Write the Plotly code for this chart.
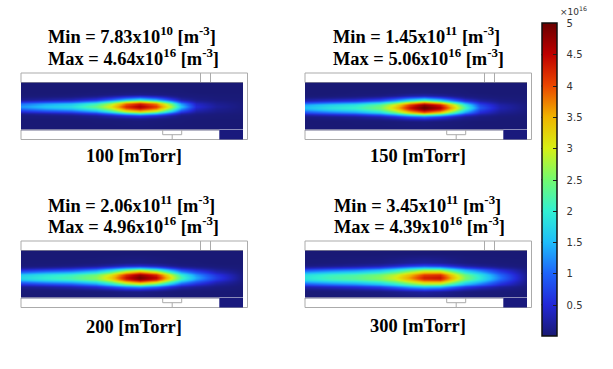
import plotly.graph_objects as go

W, H = 613, 369

pressures = ["100 [mTorr]", "150 [mTorr]", "200 [mTorr]", "300 [mTorr]"]
min_labels = ["7.83x10<sup>10</sup>", "1.45x10<sup>11</sup>", "2.06x10<sup>11</sup>", "3.45x10<sup>11</sup>"]
max_labels = ["4.64x10<sup>16</sup>", "5.06x10<sup>16</sup>", "4.96x10<sup>16</sup>", "4.39x10<sup>16</sup>"]

# axial position along the chamber (same scale for each panel)
x_nodes = [0, 25, 50, 75, 90, 105, 119, 135, 150, 160, 175, 195, 222]
# radial distance from the discharge axis
r_nodes = [0, 2.4, 4.8, 7.2, 9.6, 12, 14.4, 24]

# density on the upper half of each panel, in 1e16 m^-3; one row per r_node
density_100 = [
    [1.30, 1.60, 1.80, 2.40, 3.10, 4.20, 4.64, 4.10, 2.80, 1.60, 0.50, 0.20, 0.05],
    [1.05, 1.35, 1.55, 2.10, 2.80, 3.85, 4.30, 3.75, 2.45, 1.30, 0.40, 0.15, 0.05],
    [0.50, 0.70, 0.85, 1.30, 1.95, 2.85, 3.25, 2.70, 1.55, 0.70, 0.22, 0.10, 0.04],
    [0.14, 0.22, 0.32, 0.58, 1.00, 1.55, 1.90, 1.45, 0.70, 0.26, 0.10, 0.05, 0.03],
    [0.04, 0.06, 0.08, 0.17, 0.32, 0.55, 0.70, 0.48, 0.20, 0.08, 0.05, 0.03, 0.02],
    [0.02, 0.02, 0.03, 0.05, 0.08, 0.12, 0.15, 0.10, 0.06, 0.04, 0.03, 0.02, 0.02],
    [0.01, 0.01, 0.01, 0.02, 0.02, 0.03, 0.04, 0.03, 0.02, 0.02, 0.01, 0.01, 0.01],
    [0.01, 0.01, 0.01, 0.01, 0.01, 0.01, 0.01, 0.01, 0.01, 0.01, 0.01, 0.01, 0.01],
]
density_150 = [
    [1.55, 1.85, 2.05, 2.50, 3.30, 4.40, 5.06, 4.60, 3.20, 2.20, 0.90, 0.30, 0.05],
    [1.35, 1.65, 1.85, 2.30, 3.05, 4.10, 4.75, 4.25, 2.90, 1.90, 0.75, 0.25, 0.05],
    [0.80, 1.05, 1.25, 1.70, 2.35, 3.25, 3.80, 3.25, 2.05, 1.25, 0.48, 0.15, 0.04],
    [0.30, 0.45, 0.58, 0.90, 1.35, 2.00, 2.40, 1.90, 1.05, 0.55, 0.22, 0.08, 0.03],
    [0.08, 0.12, 0.18, 0.32, 0.55, 0.90, 1.10, 0.75, 0.35, 0.17, 0.08, 0.04, 0.02],
    [0.02, 0.03, 0.05, 0.08, 0.14, 0.25, 0.30, 0.20, 0.10, 0.06, 0.04, 0.02, 0.02],
    [0.01, 0.01, 0.02, 0.02, 0.03, 0.05, 0.06, 0.04, 0.03, 0.02, 0.01, 0.01, 0.01],
    [0.01, 0.01, 0.01, 0.01, 0.01, 0.01, 0.01, 0.01, 0.01, 0.01, 0.01, 0.01, 0.01],
]
density_200 = [
    [1.75, 2.00, 2.20, 2.60, 3.30, 4.40, 4.96, 4.50, 3.10, 2.20, 1.40, 0.70, 0.05],
    [1.60, 1.85, 2.05, 2.45, 3.10, 4.15, 4.70, 4.20, 2.85, 2.00, 1.25, 0.60, 0.05],
    [1.10, 1.35, 1.50, 1.90, 2.50, 3.40, 3.90, 3.35, 2.20, 1.45, 0.90, 0.38, 0.04],
    [0.50, 0.65, 0.80, 1.15, 1.65, 2.30, 2.65, 2.15, 1.30, 0.78, 0.45, 0.18, 0.03],
    [0.15, 0.22, 0.32, 0.52, 0.82, 1.18, 1.35, 1.05, 0.55, 0.30, 0.18, 0.08, 0.02],
    [0.04, 0.05, 0.08, 0.15, 0.25, 0.40, 0.45, 0.32, 0.15, 0.08, 0.05, 0.03, 0.02],
    [0.02, 0.02, 0.02, 0.03, 0.05, 0.08, 0.09, 0.06, 0.03, 0.02, 0.02, 0.01, 0.01],
    [0.01, 0.01, 0.01, 0.01, 0.01, 0.01, 0.01, 0.01, 0.01, 0.01, 0.01, 0.01, 0.01],
]
density_300 = [
    [1.90, 2.15, 2.30, 2.60, 3.00, 3.65, 4.30, 4.39, 3.25, 2.55, 1.95, 1.10, 0.10],
    [1.80, 2.05, 2.20, 2.48, 2.85, 3.45, 4.05, 4.15, 3.05, 2.42, 1.85, 1.00, 0.10],
    [1.40, 1.62, 1.78, 2.05, 2.42, 2.95, 3.45, 3.50, 2.60, 2.00, 1.50, 0.78, 0.08],
    [0.80, 1.00, 1.15, 1.45, 1.80, 2.25, 2.60, 2.55, 1.85, 1.40, 1.00, 0.48, 0.06],
    [0.30, 0.42, 0.55, 0.75, 1.05, 1.40, 1.60, 1.50, 1.00, 0.70, 0.45, 0.20, 0.04],
    [0.08, 0.12, 0.18, 0.28, 0.42, 0.62, 0.75, 0.65, 0.40, 0.25, 0.15, 0.07, 0.03],
    [0.02, 0.03, 0.05, 0.07, 0.12, 0.18, 0.22, 0.18, 0.10, 0.06, 0.04, 0.03, 0.02],
    [0.01, 0.01, 0.01, 0.01, 0.01, 0.01, 0.01, 0.01, 0.01, 0.01, 0.01, 0.01, 0.01],
]
densities = [density_100, density_150, density_200, density_300]

# layout of the four panels, in pixels
panel_left = [21, 305, 21, 305]
panel_top = [73, 73, 241, 241]
axis_offset = [23.8, 24.8, 26.5, 26.5]   # discharge axis, below the plasma top edge
min_y = [36, 36, 204, 204]
max_y = [57, 57, 225, 225]
cap_y = [156, 156, 327, 326]
text_x = [47, 332, 47, 333]
cap_x = [134, 418, 134, 418]

color_stops = [
    (0.0, "rgb(25,25,115)"), (0.1, "rgb(35,40,215)"), (0.2, "rgb(30,100,250)"),
    (0.3, "rgb(30,190,250)"), (0.4, "rgb(50,240,210)"), (0.5, "rgb(115,250,110)"),
    (0.6, "rgb(215,240,20)"), (0.7, "rgb(240,180,0)"), (0.8, "rgb(235,70,0)"),
    (0.9, "rgb(190,0,0)"), (1.0, "rgb(105,0,0)"),
]
bar_ticks = [0.5, 1, 1.5, 2, 2.5, 3, 3.5, 4, 4.5, 5]
bar_labels = ["\u00a0\u00a00.5", "\u00a0\u00a01", "\u00a0\u00a01.5", "\u00a0\u00a02", "\u00a0\u00a02.5",
              "\u00a0\u00a03", "\u00a0\u00a03.5", "\u00a0\u00a04", "\u00a0\u00a04.5", "\u00a0\u00a05"]

NAVY = "#19197d"
GRAY = "#ababab"
PLASMA_W, PLASMA_H, GAP_TOP = 222, 47.5, 9.5
BAR_L, BAR_W, BAR_T, BAR_B = 541.5, 15, 23.5, 336

fig = go.Figure()
layout_axes = {}
shapes, annots = [], []


def line(x0, y0, x1, y1, color=GRAY, width=1):
    shapes.append(dict(type="line", xref="paper", yref="paper", x0=x0 / W, x1=x1 / W,
                       y0=1 - y0 / H, y1=1 - y1 / H, line=dict(color=color, width=width)))


for i, dens in enumerate(densities):
    L, T = panel_left[i], panel_top[i]
    pT = T + GAP_TOP
    pB = pT + PLASMA_H
    n = str(i + 1)
    c = axis_offset[i]
    ys = [c - r for r in reversed(r_nodes[1:])] + [c + r for r in r_nodes]
    ys = [max(0, min(PLASMA_H, v)) for v in ys]
    rows = list(reversed(dens[1:])) + dens
    for k in range(1, len(ys)):
        if ys[k] <= ys[k - 1]:
            ys[k] = ys[k - 1] + 0.01
    fig.add_trace(go.Heatmap(
        x=x_nodes, y=ys, z=rows, zmin=0, zmax=5, zsmooth="best",
        colorscale=color_stops, xaxis="x" + n, yaxis="y" + n,
        showscale=(i == 0), hoverinfo="skip",
        colorbar=dict(
            thicknessmode="pixels", thickness=BAR_W, lenmode="pixels", len=BAR_B - BAR_T,
            x=BAR_L / W, xanchor="left", y=1 - BAR_T / H, yanchor="top", xpad=0, ypad=0,
            outlinecolor="#111111", outlinewidth=1.5, borderwidth=0,
            tickmode="array", tickvals=bar_ticks, ticktext=bar_labels,
            ticks="inside", ticklen=4, tickcolor="#222222", tickwidth=1,
            tickfont=dict(family="DejaVu Sans", size=10, color="#333333"),
            ticklabelposition="outside",
        ),
    ))
    suffix = "" if i == 0 else n
    layout_axes["xaxis" + suffix] = dict(domain=[L / W, (L + PLASMA_W) / W], range=[0, PLASMA_W],
                                          visible=False, fixedrange=True)
    layout_axes["yaxis" + suffix] = dict(domain=[1 - pB / H, 1 - pT / H], range=[PLASMA_H, 0],
                                          visible=False, fixedrange=True)

    R = L + 226.5
    Bm = T + 66.5
    line(L, T, R, T)
    line(L, T, L, pT)
    line(R, T, R, Bm)
    line(L, Bm, R, Bm)
    line(L, pB, L, Bm)
    line(L + 179.5, T, L + 179.5, pT)
    line(L + 189.5, T, L + 189.5, pT)
    line(L, pT, L + PLASMA_W, pT, "#6f6f8f", 1)
    line(L, pB, L + 198.3, pB, "#6f6f8f", 1)
    line(L + 141.7, pB, L + 141.7, pB + 4.7)
    line(L + 160.7, pB, L + 160.7, pB + 4.7)
    line(L + 141.7, pB + 4.7, L + 160.7, pB + 4.7)
    line(L + 151.2, pB + 4.7, L + 151.2, Bm)
    shapes.append(dict(type="rect", xref="paper", yref="paper", x0=(L + 198.3) / W, x1=(L + PLASMA_W) / W,
                       y0=1 - Bm / H, y1=1 - pB / H, fillcolor=NAVY, line_width=0, layer="above"))

    font = dict(family="Liberation Serif", size=18.4, color="black")
    annots.append(dict(text=f"<b>Min = {min_labels[i]} [m<sup>-3</sup>]</b>", x=text_x[i] / W, y=1 - min_y[i] / H,
                       xanchor="left", yanchor="middle", font=font))
    annots.append(dict(text=f"<b>Max = {max_labels[i]} [m<sup>-3</sup>]</b>", x=text_x[i] / W, y=1 - max_y[i] / H,
                       xanchor="left", yanchor="middle", font=font))
    annots.append(dict(text=f"<b>{pressures[i]}</b>", x=cap_x[i] / W, y=1 - cap_y[i] / H,
                       xanchor="center", yanchor="middle", font=font))

for v in bar_ticks[:-1]:
    yy = BAR_B - (BAR_B - BAR_T) * v / 5
    line(BAR_L, yy, BAR_L + 4, yy, "#222222", 1)

annots.append(dict(text="×10<sup>16</sup>", x=559 / W, y=1 - 11 / H, xanchor="left", yanchor="middle",
                   font=dict(family="DejaVu Sans", size=9, color="#333333")))
for a in annots:
    a.update(xref="paper", yref="paper", showarrow=False, borderpad=0, align="left")

fig.update_layout(width=W, height=H, margin=dict(l=0, r=0, t=0, b=0), paper_bgcolor="white",
                  plot_bgcolor="white", shapes=shapes, annotations=annots, showlegend=False,
                  **layout_axes)
fig.write_html("out.html", config=dict(displayModeBar=False),
               post_script="document.body.style.margin='0';document.documentElement.style.overflow='hidden';")
